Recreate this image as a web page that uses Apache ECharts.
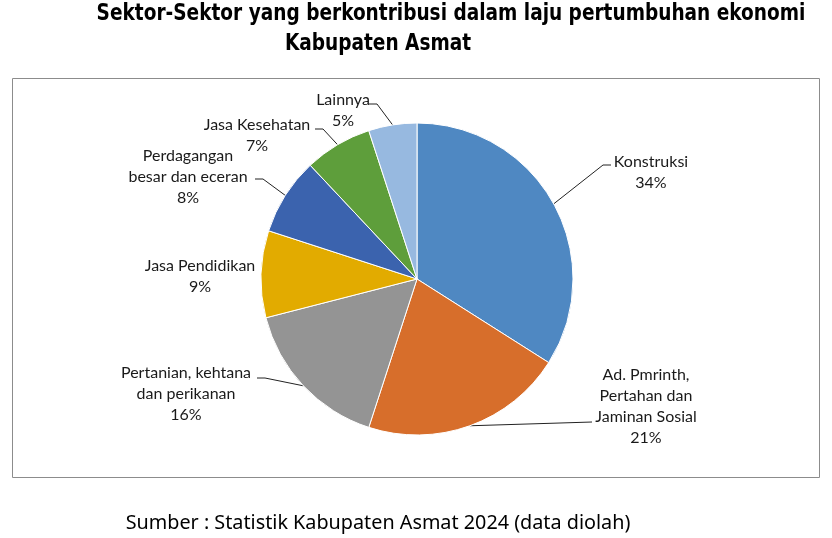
<!DOCTYPE html>
<html>
<head>
<meta charset="utf-8">
<script src="https://cdn.jsdelivr.net/npm/echarts@6/dist/echarts.min.js"></script>
<style>html,body{margin:0;padding:0;background:#fff;}#c{width:832px;height:538px;}</style>
</head>
<body>
<div id="c"></div>
<script>
var categories = ["Konstruksi", "Ad. Pmrinth,\nPertahan dan\nJaminan Sosial", "Pertanian, kehtana\ndan perikanan", "Jasa Pendidikan", "Perdagangan\nbesar dan eceran", "Jasa Kesehatan", "Lainnya"];
var values = [34, 21, 16, 9, 8, 7, 5];
var colors = ["#4F88C2", "#D76E2B", "#949494", "#E2AB00", "#3B63AE", "#5E9E3B", "#97B9E0"];
var titleLine1 = "Sektor-Sektor yang berkontribusi dalam laju pertumbuhan ekonomi";
var titleLine2 = "Kabupaten Asmat";
var sourceText = "Sumber : Statistik Kabupaten Asmat 2024 (data diolah)";

// label placement (styling): label centre and label-line elbow/end
var labelPos = [
  {x: 651, y: 172, line: [[603, 165], [611, 165]]},
  {x: 646, y: 406, line: [[560, 423], [592, 422]]},
  {x: 186, y: 394, line: [[265, 378], [257, 378]]},
  {x: 200, y: 276, line: null},
  {x: 188, y: 177, line: [[263, 179], [255, 179]]},
  {x: 257, y: 135, line: [[323, 129], [315, 129]]},
  {x: 343, y: 110, line: [[377, 104], [369, 104]]}
];

var data = categories.map(function (c, i) {
  return {name: c, value: values[i], itemStyle: {color: colors[i]}};
});

var chart = echarts.init(document.getElementById('c'));
chart.setOption({
  animation: false,
  graphic: [
    {type: 'rect', shape: {x: 12.5, y: 78.5, width: 807, height: 399}, style: {fill: 'none', stroke: '#8c8c8c', lineWidth: 1}, z: -1},
    {type: 'text', x: 451, y: 14, scaleY: 1.12, style: {text: titleLine1, font: 'bold 20.6px "DejaVu Sans Condensed"', fill: '#000', align: 'center', verticalAlign: 'middle'}},
    {type: 'text', x: 378, y: 44, scaleY: 1.12, style: {text: titleLine2, font: 'bold 20.6px "DejaVu Sans Condensed"', fill: '#000', align: 'center', verticalAlign: 'middle'}},
    {type: 'text', x: 378, y: 523, style: {text: sourceText, font: '19.8px "Noto Sans"', fill: '#000', align: 'center', verticalAlign: 'middle'}}
  ],
  series: [{
    type: 'pie',
    center: [417, 279],
    radius: [0, 156],
    startAngle: 90,
    clockwise: true,
    data: data,
    itemStyle: {borderColor: '#fff', borderWidth: 1},
    emphasis: {disabled: true},
    label: {
      show: true,
      position: 'outside',
      formatter: function (p) { return p.name + '\n' + p.value + '%'; },
      fontFamily: 'Lato',
      fontSize: 16,
      lineHeight: 21,
      color: '#1a1a1a'
    },
    labelLine: {show: true, lineStyle: {color: '#222', width: 1}},
    labelLayout: function (params) {
      var lp = labelPos[params.dataIndex];
      var res = {x: lp.x, y: lp.y, align: 'center', verticalAlign: 'middle'};
      if (params.labelLinePoints && lp.line) {
        var p0 = params.labelLinePoints[0];
        res.labelLinePoints = [p0, lp.line[0], lp.line[1]];
      } else if (params.labelLinePoints) {
        var q = params.labelLinePoints[0];
        res.labelLinePoints = [q, q, q];
      }
      return res;
    }
  }]
});
</script>
</body>
</html>
